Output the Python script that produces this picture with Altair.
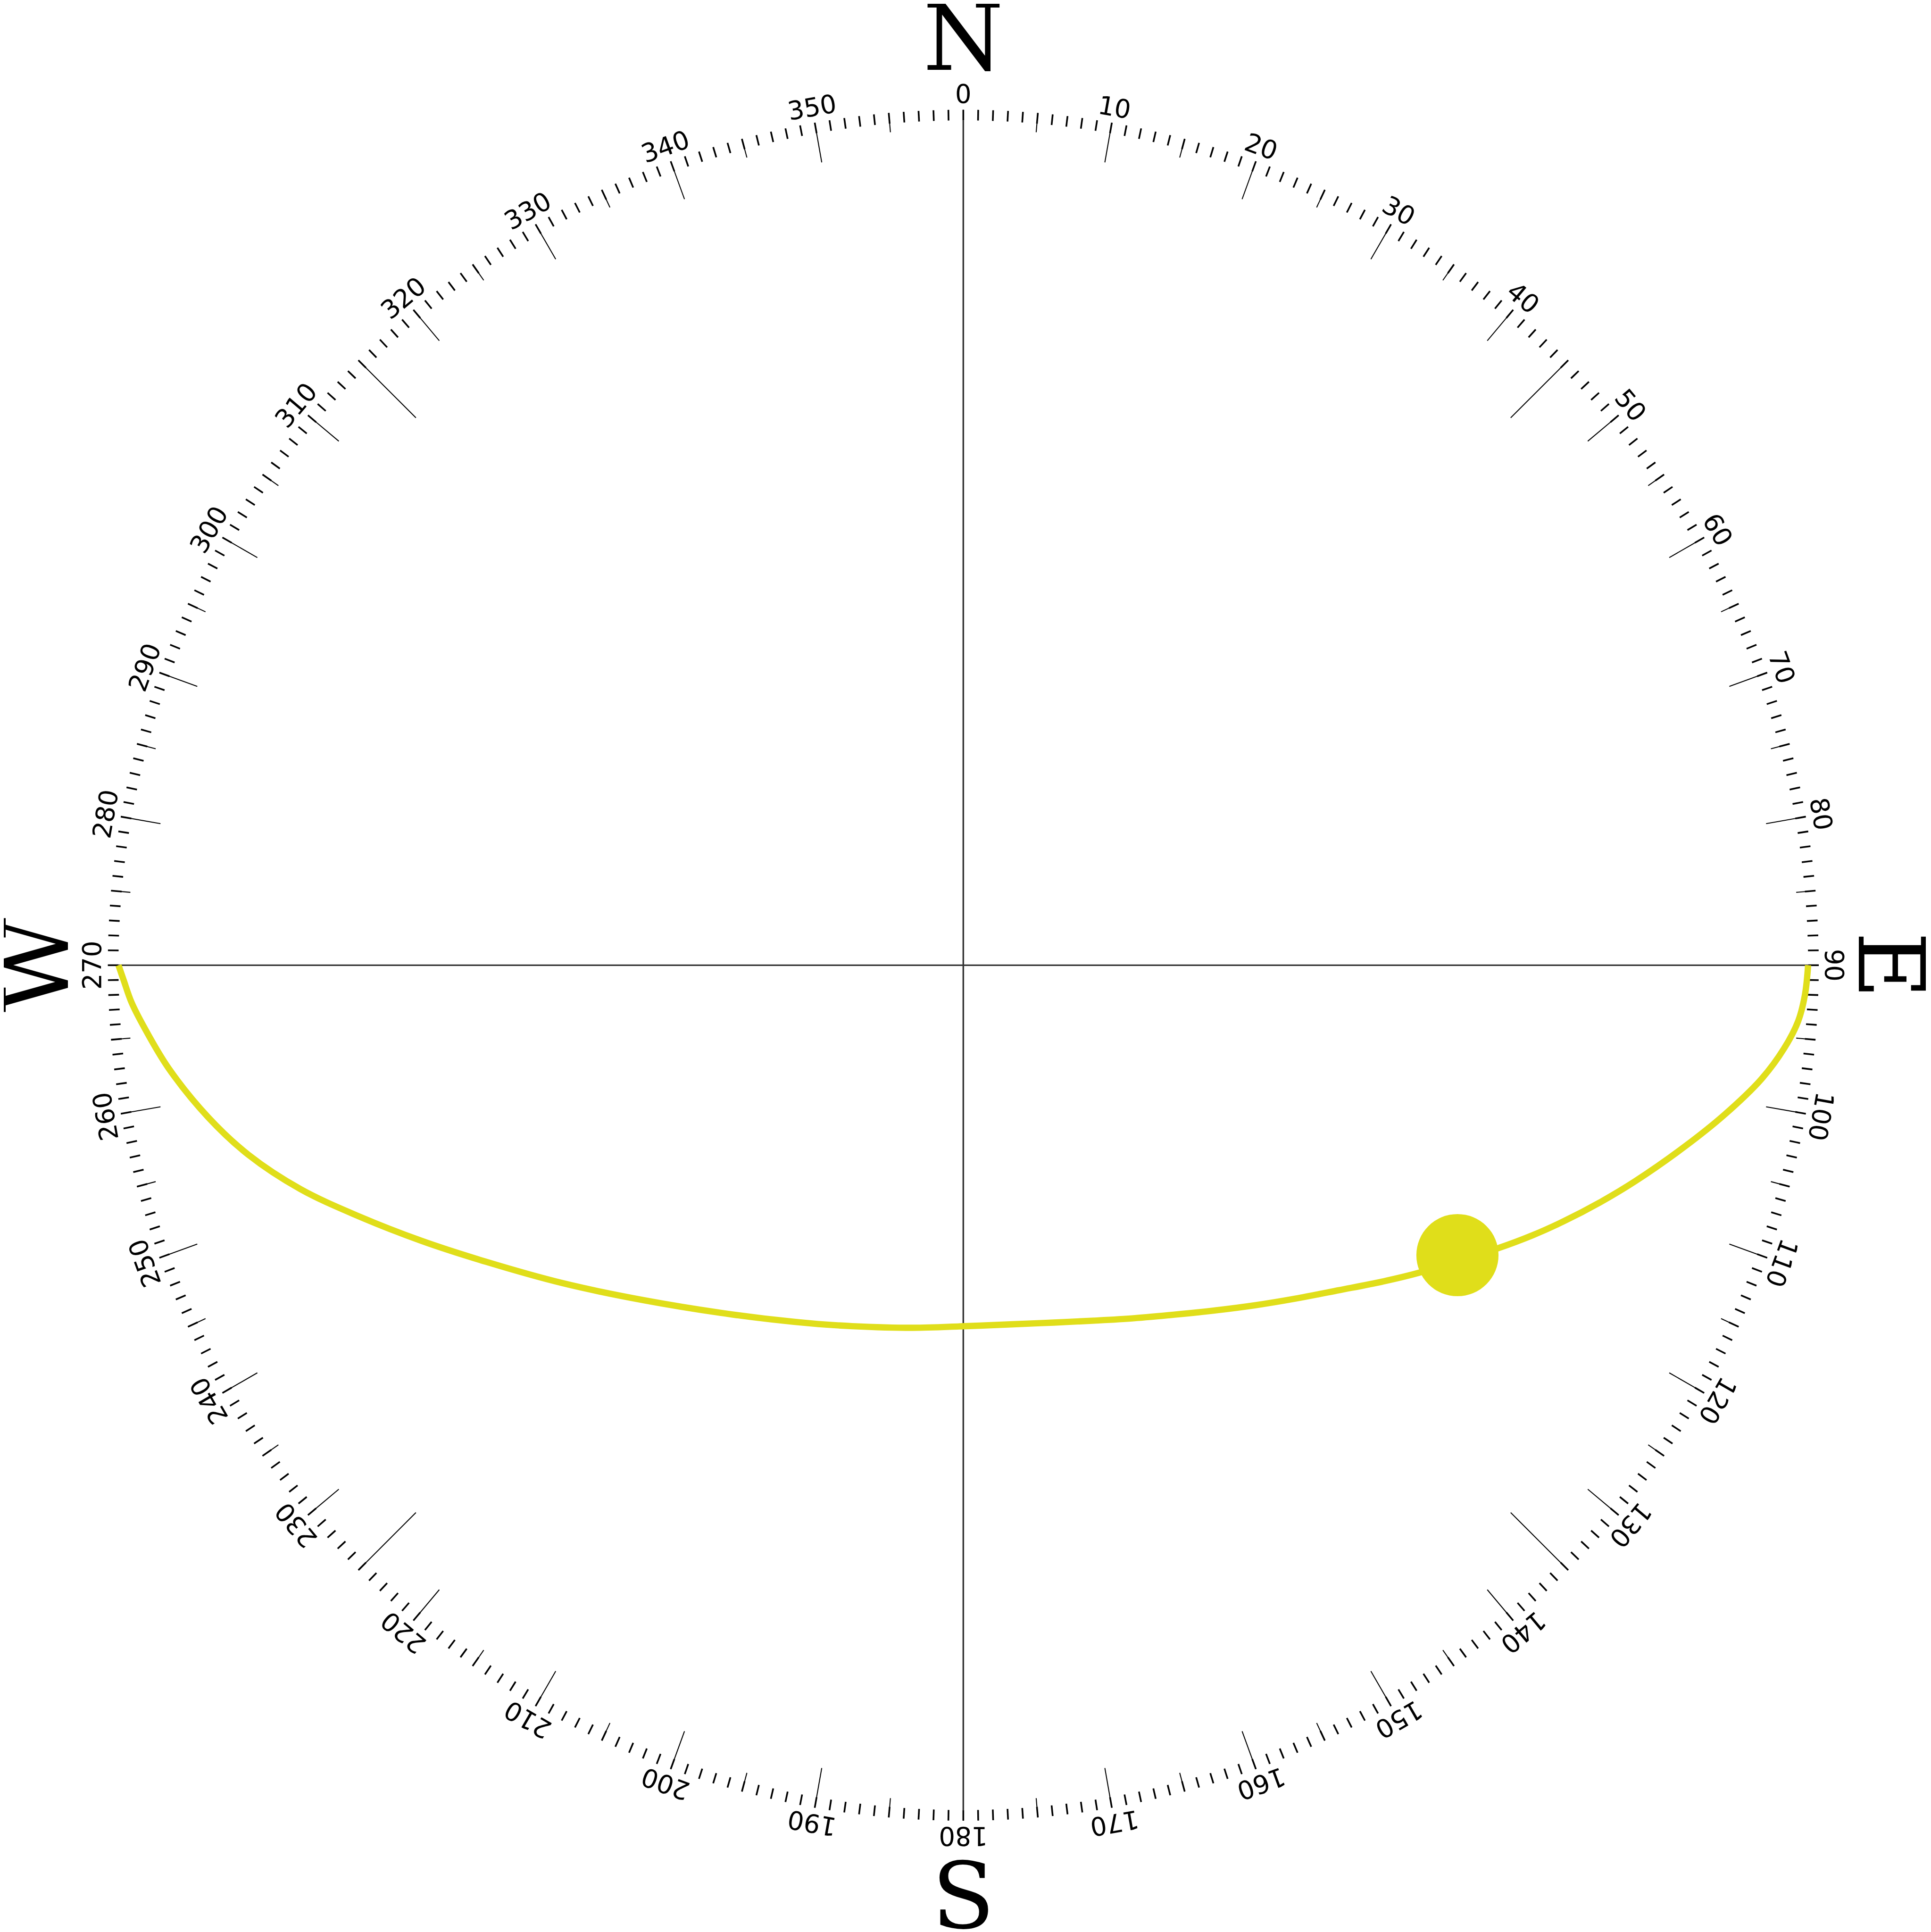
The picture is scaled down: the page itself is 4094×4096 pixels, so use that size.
import altair as alt
import pandas as pd

# ---------------- data ----------------
# sun path: azimuth (deg, clockwise from N) and altitude (deg), sunrise (E) -> sunset (W)
# (radial distance on the chart is proportional to cos(altitude))
path_azimuth = [90.0, 92.0, 93.82, 95.8, 98.11, 101.09, 104.07, 107.83, 110.46, 113.07,
                115.39, 117.92, 124.04, 127.05, 130.87, 135.07, 139.32, 143.87, 148.85, 154.26,
                159.81, 165.8, 172.05, 180.0, 187.94, 197.09, 202.89, 213.58, 223.69, 231.58,
                238.13, 243.04, 247.56, 251.33, 255.15, 258.62, 262.61, 265.56, 267.44, 268.98,
                270.0]
path_altitude = [0.0, 4.5, 7.9, 12.45, 17.37, 23.29, 28.23, 33.35, 36.5, 39.38,
                 41.78, 44.29, 49.42, 51.57, 53.99, 56.13, 57.95, 59.61, 61.1, 62.36,
                 63.37, 64.13, 64.59, 64.7, 64.32, 63.45, 62.59, 60.26, 56.75, 52.73,
                 48.32, 43.98, 39.07, 34.1, 28.9, 24.24, 18.46, 13.69, 9.75, 6.25,
                 0.0]
sun_azimuth = [120.4]
sun_altitude = [47.3]

tick_azimuths = list(range(0, 360))          # one tick per degree
label_azimuths = list(range(0, 360, 10))     # labelled every 10 degrees
cardinal_labels = ["N", "E", "S", "W"]
cardinal_azimuths = [0, 90, 180, 270]

# ---------------- layout (reference-pixel units, centre = 0) ----------------
SCALE = 0.839
MARGIN = 8
W_PX, H_PX = 4086, 4088
CX = CY = 2439.0
RH = 2139.0          # horizon circle
R_OUT = 2166.0       # outer end of ticks
R5 = 2117.0
R10 = 2064.0
R45 = 1960.0
R_LABEL = 2183.0
R_CARD = 2267.0
R_CARD_S = 2437.0

xmin = MARGIN / SCALE - CX
xmax = (MARGIN + W_PX) / SCALE - CX
ymax = CY - MARGIN / SCALE
ymin = CY - (MARGIN + H_PX) / SCALE

xs = alt.Scale(domain=[xmin, xmax], nice=False, zero=False)
ys = alt.Scale(domain=[ymin, ymax], nice=False, zero=False)

RAD = "PI/180"


def X(f):
    return alt.X(f, type="quantitative", scale=xs, axis=None)


def Y(f):
    return alt.Y(f, type="quantitative", scale=ys, axis=None)


ticks_df = pd.DataFrame({"az": tick_azimuths})
labels_df = pd.DataFrame({"az": label_azimuths})
card_df = pd.DataFrame({"label": cardinal_labels, "az": cardinal_azimuths})
path_df = pd.DataFrame({"az": path_azimuth, "alt": path_altitude,
                        "i": list(range(len(path_azimuth)))})
sun_df = pd.DataFrame({"az": sun_azimuth, "alt": sun_altitude})

# cross lines N-S and E-W
cross = alt.Chart(pd.DataFrame({"az": [0, 90]})).transform_calculate(
    x1=f"{RH}*sin(datum.az*{RAD})", y1=f"{RH}*cos(datum.az*{RAD})",
    x2=f"-{RH}*sin(datum.az*{RAD})", y2=f"-{RH}*cos(datum.az*{RAD})",
).mark_rule(color="#333333", strokeWidth=3.4).encode(
    x=X("x1"), y=Y("y1"), x2="x2:Q", y2="y2:Q")

# one-degree ticks
minor = alt.Chart(ticks_df).transform_calculate(
    x1=f"{RH}*sin(datum.az*{RAD})", y1=f"{RH}*cos(datum.az*{RAD})",
    x2=f"{R_OUT}*sin(datum.az*{RAD})", y2=f"{R_OUT}*cos(datum.az*{RAD})",
).mark_rule(color="black", strokeWidth=3.6).encode(
    x=X("x1"), y=Y("y1"), x2="x2:Q", y2="y2:Q")

# longer thin lines at 5, 10 and 45 degrees
longt = alt.Chart(ticks_df).transform_filter(
    "datum.az % 5 == 0 && datum.az % 90 != 0"
).transform_calculate(
    rin=f"datum.az % 45 == 0 ? {R45} : (datum.az % 10 == 0 ? {R10} : {R5})"
).transform_calculate(
    x1=f"datum.rin*sin(datum.az*{RAD})", y1=f"datum.rin*cos(datum.az*{RAD})",
    x2=f"{R_OUT}*sin(datum.az*{RAD})", y2=f"{R_OUT}*cos(datum.az*{RAD})",
).mark_rule(color="black", strokeWidth=2.1).encode(
    x=X("x1"), y=Y("y1"), x2="x2:Q", y2="y2:Q")

# degree labels
labels = alt.Chart(labels_df).transform_calculate(
    x=f"{R_LABEL}*sin(datum.az*{RAD})", y=f"{R_LABEL}*cos(datum.az*{RAD})"
).mark_text(font="DejaVu Sans", fontSize=54.5, baseline="alphabetic",
            align="center", color="black").encode(
    x=X("x"), y=Y("y"),
    text=alt.Text("az:Q", format="d"),
    angle=alt.Angle("az:Q", scale=None))

# cardinal letters
cards = alt.Chart(card_df).transform_calculate(
    r=f"datum.az == 180 ? {R_CARD_S} : {R_CARD}",
    ang="datum.az == 180 ? 0 : datum.az",
).transform_calculate(
    x=f"datum.r*sin(datum.az*{RAD})", y=f"datum.r*cos(datum.az*{RAD})"
).mark_text(font="DejaVu Serif", fontSize=195.5, baseline="alphabetic",
            align="center", color="black").encode(
    x=X("x"), y=Y("y"), text="label:N",
    angle=alt.Angle("ang:Q", scale=None))

# sun path
path = alt.Chart(path_df).transform_calculate(
    r=f"{RH}*cos(datum.alt*{RAD})"
).transform_calculate(
    x=f"datum.r*sin(datum.az*{RAD})", y=f"datum.r*cos(datum.az*{RAD})"
).mark_line(color="#e0de1a", strokeWidth=13.4, strokeJoin="round",
            interpolate="catmull-rom").encode(
    x=X("x"), y=Y("y"), order="i:Q")

sun = alt.Chart(sun_df).transform_calculate(
    r=f"{RH}*cos(datum.alt*{RAD})"
).transform_calculate(
    x=f"datum.r*sin(datum.az*{RAD})", y=f"datum.r*cos(datum.az*{RAD})"
).mark_circle(color="#e0de1a", size=30450, opacity=1).encode(
    x=X("x"), y=Y("y"))

chart = alt.layer(cross, minor, longt, labels, cards, path, sun).properties(
    width=W_PX, height=H_PX,
    autosize=alt.AutoSizeParams(type="none"),
    padding=0,
    background="white",
).configure_view(stroke=None)

chart.save("out.html", embed_options={"renderer": "svg", "actions": False})
